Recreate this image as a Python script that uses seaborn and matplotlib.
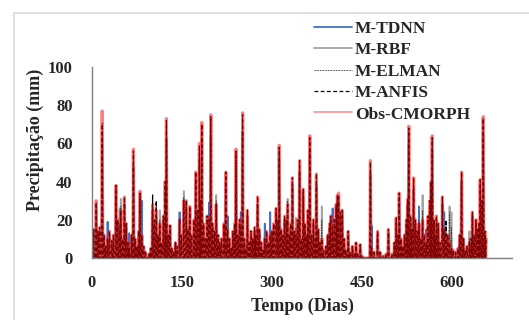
import numpy as np
import pandas as pd
import matplotlib
matplotlib.use("Agg")
import matplotlib.pyplot as plt
from matplotlib.patches import Rectangle
import seaborn as sns

# dias com chuva (demais dias = 0 mm)
dias = [0, 3, 7, 10, 13, 17, 20, 23, 26, 29,
        33, 36, 40, 43, 46, 48, 51, 54, 57, 60,
        62, 66, 69, 72, 75, 78, 80, 83, 86, 89,
        95, 98, 101, 104, 107, 110, 113, 116, 119, 122,
        124, 127, 130, 133, 136, 139, 142, 146, 149, 153,
        157, 160, 163, 166, 170, 173, 176, 179, 181, 183,
        186, 189, 192, 195, 198, 201, 204, 207, 210, 213,
        216, 220, 223, 226, 229, 232, 235, 238, 240, 243,
        246, 248, 251, 254, 256, 259, 262, 265, 268, 271,
        273, 276, 279, 282, 285, 288, 291, 294, 297, 300,
        303, 307, 310, 312, 315, 318, 321, 324, 326, 329,
        331, 334, 337, 340, 343, 346, 349, 352, 355, 358,
        360, 363, 366, 369, 372, 374, 377, 380, 383, 386,
        390, 393, 396, 398, 401, 404, 407, 409, 411, 414,
        417, 420, 423, 427, 430, 434, 437, 440, 443, 447,
        450, 464, 466, 470, 476, 480, 485, 490, 494, 500,
        504, 507, 510, 512, 515, 518, 521, 524, 526, 528,
        531, 533, 536, 539, 542, 545, 548, 551, 554, 557,
        560, 563, 565, 567, 570, 572, 574, 577, 580, 584,
        587, 590, 593, 596, 599, 602, 606, 610, 613, 616,
        619, 622, 625, 629, 632, 634, 637, 640, 643, 645,
        647, 650, 652, 655, 657]

obs_cmorph = [8, 15, 30, 14, 16, 77, 12, 6, 10, 14,
              9, 12, 38, 20, 15, 25, 10, 32, 18, 8,
              5, 12, 57, 10, 6, 14, 35, 12, 6, 3,
              2, 5, 28, 20, 25, 12, 18, 8, 22, 40,
              73, 12, 17, 5, 3, 8, 6, 20, 12, 30,
              30, 15, 27, 12, 20, 45, 25, 60, 30, 71,
              18, 10, 22, 20, 75, 18, 14, 28, 12, 8,
              10, 18, 45, 15, 10, 5, 14, 18, 57, 12,
              20, 16, 76, 10, 5, 25, 8, 14, 10, 16,
              12, 32, 15, 8, 4, 10, 14, 8, 12, 14,
              18, 26, 20, 59, 15, 12, 22, 20, 28, 12,
              18, 42, 14, 12, 20, 51, 10, 36, 18, 12,
              25, 64, 12, 20, 10, 44, 15, 8, 10, 4,
              6, 12, 18, 22, 16, 20, 28, 33, 34, 24,
              25, 10, 4, 14, 3, 6, 2, 8, 2, 7,
              1, 51, 5, 3, 14, 3, 1, 2, 15, 2,
              8, 21, 12, 34, 10, 6, 12, 20, 31, 69,
              22, 15, 42, 20, 14, 18, 10, 20, 12, 8,
              22, 30, 40, 64, 20, 12, 22, 18, 8, 32,
              15, 10, 12, 8, 5, 4, 3, 5, 12, 45,
              10, 4, 6, 8, 10, 24, 12, 20, 15, 18,
              41, 30, 74, 14, 10]

m_anfis = [8, 15, 29, 14, 16, 70, 12, 6, 10, 14,
           9, 12, 38, 20, 15, 25, 10, 32, 18, 8,
           5, 12, 56, 10, 6, 14, 34, 12, 6, 3,
           2, 5, 33, 20, 30, 12, 18, 8, 22, 40,
           72, 12, 17, 5, 3, 8, 6, 20, 12, 30,
           30, 15, 27, 12, 20, 45, 25, 59, 30, 70,
           18, 10, 22, 20, 74, 18, 14, 28, 12, 8,
           10, 18, 45, 15, 10, 5, 14, 18, 56, 12,
           20, 16, 75, 10, 5, 25, 8, 14, 10, 16,
           12, 32, 15, 8, 4, 10, 14, 8, 12, 14,
           18, 26, 20, 58, 15, 12, 22, 20, 28, 12,
           18, 42, 14, 12, 20, 51, 10, 36, 18, 12,
           25, 63, 12, 20, 10, 44, 15, 8, 10, 4,
           6, 12, 18, 22, 16, 20, 28, 33, 33, 24,
           25, 10, 4, 14, 3, 6, 2, 8, 2, 7,
           1, 50, 5, 3, 14, 3, 1, 2, 15, 2,
           8, 21, 12, 34, 10, 6, 12, 20, 31, 68,
           22, 15, 42, 20, 14, 18, 10, 20, 12, 8,
           22, 30, 40, 63, 20, 12, 22, 18, 8, 32,
           15, 20, 12, 8, 5, 4, 3, 5, 12, 45,
           10, 4, 6, 8, 10, 24, 12, 20, 15, 18,
           41, 30, 73, 14, 10]

m_elman = [9, 15, 29, 14, 16, 71, 12, 6, 10, 14,
           9, 12, 37, 20, 18, 27, 10, 31, 18, 8,
           5, 12, 56, 10, 6, 14, 34, 12, 6, 3,
           2, 5, 30, 20, 28, 12, 20, 8, 22, 39,
           72, 12, 17, 5, 3, 8, 6, 20, 12, 32,
           30, 15, 27, 12, 20, 45, 25, 59, 30, 70,
           18, 10, 22, 22, 74, 18, 14, 30, 12, 8,
           10, 18, 45, 15, 10, 5, 14, 18, 56, 12,
           20, 18, 75, 10, 5, 25, 8, 14, 10, 16,
           12, 32, 15, 8, 4, 10, 14, 8, 12, 14,
           18, 26, 20, 58, 15, 12, 22, 20, 30, 12,
           18, 42, 14, 16, 20, 51, 10, 36, 18, 12,
           25, 63, 12, 20, 10, 44, 15, 8, 20, 4,
           6, 12, 18, 22, 18, 20, 28, 33, 33, 24,
           25, 10, 4, 14, 3, 6, 2, 8, 2, 7,
           1, 50, 5, 3, 14, 3, 1, 2, 15, 2,
           8, 21, 12, 34, 10, 6, 12, 20, 31, 68,
           22, 15, 42, 20, 14, 20, 10, 25, 12, 8,
           22, 30, 40, 63, 20, 12, 22, 18, 8, 32,
           15, 18, 12, 24, 16, 4, 3, 5, 12, 45,
           10, 4, 6, 10, 10, 24, 12, 20, 15, 18,
           41, 30, 73, 14, 10]

m_tdnn = [6, 14, 26, 12, 14, 60, 12, 6, 19, 12,
          9, 12, 32, 18, 14, 22, 10, 28, 16, 8,
          13, 12, 48, 10, 6, 14, 30, 30, 6, 3,
          2, 5, 25, 18, 22, 12, 16, 8, 20, 35,
          62, 12, 15, 5, 3, 8, 6, 24, 12, 26,
          26, 15, 24, 12, 18, 40, 22, 52, 28, 62,
          16, 10, 20, 29, 64, 16, 14, 24, 12, 8,
          10, 16, 40, 22, 10, 5, 12, 16, 50, 12,
          18, 24, 66, 10, 5, 22, 8, 12, 10, 14,
          12, 28, 14, 8, 4, 18, 12, 8, 24, 14,
          16, 24, 18, 52, 14, 12, 20, 18, 24, 12,
          16, 38, 12, 12, 18, 45, 10, 32, 16, 12,
          22, 56, 12, 18, 10, 38, 14, 8, 10, 4,
          6, 12, 16, 20, 26, 18, 26, 30, 30, 22,
          22, 10, 4, 12, 3, 6, 2, 7, 2, 6,
          1, 44, 17, 3, 12, 3, 1, 2, 13, 2,
          8, 18, 12, 30, 10, 6, 12, 18, 28, 60,
          20, 15, 36, 18, 14, 27, 10, 18, 12, 15,
          20, 26, 35, 56, 18, 12, 20, 16, 8, 28,
          24, 10, 12, 8, 5, 4, 3, 5, 12, 40,
          10, 4, 6, 8, 10, 22, 12, 18, 14, 16,
          36, 26, 64, 12, 10]

m_rbf = [12, 14, 26, 12, 14, 62, 12, 6, 10, 12,
         9, 12, 32, 18, 26, 31, 10, 28, 16, 8,
         5, 12, 48, 10, 6, 14, 30, 12, 6, 3,
         2, 5, 25, 18, 22, 12, 25, 8, 20, 35,
         62, 12, 15, 5, 3, 8, 6, 18, 12, 35,
         26, 15, 24, 12, 18, 40, 22, 52, 28, 62,
         16, 10, 20, 18, 64, 16, 14, 33, 12, 8,
         10, 16, 40, 15, 10, 5, 12, 16, 50, 12,
         18, 14, 66, 10, 5, 22, 8, 12, 10, 14,
         12, 28, 14, 8, 4, 10, 12, 8, 12, 14,
         16, 24, 18, 52, 14, 12, 20, 18, 31, 12,
         16, 38, 12, 21, 18, 45, 10, 32, 16, 12,
         22, 56, 12, 18, 10, 38, 14, 8, 27, 4,
         6, 12, 16, 20, 16, 18, 26, 30, 30, 22,
         22, 10, 4, 12, 3, 6, 2, 7, 2, 6,
         1, 44, 5, 3, 12, 3, 1, 2, 13, 2,
         8, 18, 12, 30, 10, 6, 12, 18, 28, 60,
         20, 15, 36, 18, 14, 18, 10, 33, 12, 8,
         20, 26, 35, 56, 18, 12, 20, 16, 8, 28,
         15, 10, 12, 27, 24, 4, 3, 5, 12, 40,
         10, 4, 6, 14, 10, 22, 12, 18, 14, 16,
         36, 26, 64, 12, 10]

n_dias = 658


def serie_diaria(valores):
    s = np.zeros(n_dias)
    s[dias] = valores
    return s


tempo = np.arange(n_dias)
df = pd.DataFrame({
    "Tempo": tempo,
    "M-TDNN": serie_diaria(m_tdnn),
    "M-RBF": serie_diaria(m_rbf),
    "M-ELMAN": serie_diaria(m_elman),
    "M-ANFIS": serie_diaria(m_anfis),
    "Obs-CMORPH": serie_diaria(obs_cmorph),
})

sns.set_theme(style="white")
plt.rcParams["font.family"] = ["Liberation Serif", "DejaVu Serif"]
plt.rcParams["font.weight"] = "bold"

fig = plt.figure(figsize=(5.29, 3.20), dpi=100)
ax = fig.add_axes([92 / 529, 1 - 258 / 320, 420 / 529, 191 / 320])

sns.lineplot(data=df, x="Tempo", y="M-TDNN", ax=ax, color="#4472C4", lw=1.3, label="M-TDNN")
sns.lineplot(data=df, x="Tempo", y="M-RBF", ax=ax, color="#A5A5A5", lw=1.3, label="M-RBF")
sns.lineplot(data=df, x="Tempo", y="M-ELMAN", ax=ax, color="#404040", lw=0.6,
             dashes=(2, 1.2), label="M-ELMAN")
sns.lineplot(data=df, x="Tempo", y="M-ANFIS", ax=ax, color="black", lw=0.9,
             dashes=(3, 2), label="M-ANFIS")
sns.lineplot(data=df, x="Tempo", y="Obs-CMORPH", ax=ax, color="red", alpha=0.5, lw=2.3,
             label="Obs-CMORPH")
# a legenda do observado aparece rosada, como na figura original
leg_obs_color = (1.0, 0.6, 0.6)

ax.set_xlim(0, 700)
ax.set_ylim(0, 100)
ax.set_xticks([0, 150, 300, 450, 600])
ax.set_yticks([0, 20, 40, 60, 80, 100])
ax.tick_params(axis="both", length=0, labelsize=12)
ax.tick_params(axis="y", pad=14)
ax.tick_params(axis="x", pad=12)
for lab in ax.get_xticklabels() + ax.get_yticklabels():
    lab.set_fontweight("bold")

for s in ["top", "right"]:
    ax.spines[s].set_visible(False)
for s in ["left", "bottom"]:
    ax.spines[s].set_color("#7f7f7f")
    ax.spines[s].set_linewidth(1.0)

ax.set_xlabel("Tempo (Dias)", fontsize=13, fontweight="bold")
ax.xaxis.set_label_coords(0.5, -0.21)
ax.set_ylabel("Precipitação (mm)", fontsize=13, fontweight="bold")
ax.yaxis.set_label_coords(-0.115, 0.62)

leg = ax.legend(loc="upper left", bbox_to_anchor=(307 / 529, 1 - 14 / 320),
                bbox_transform=fig.transFigure, frameon=False,
                prop={"size": 12.5, "weight": "bold"}, handlelength=2.2,
                handletextpad=0.15, labelspacing=0.3, borderaxespad=0)
h_obs = leg.get_lines()[-1]
h_obs.set_color(leg_obs_color)
h_obs.set_alpha(1)
h_obs.set_linewidth(1.3)

fig.patches.append(Rectangle((14 / 529, -0.2), 1.2, 1.2 - 13 / 320,
                             transform=fig.transFigure, fill=False,
                             edgecolor="#d9d9d9", lw=1.2))

fig.savefig("out.png", dpi=100)
